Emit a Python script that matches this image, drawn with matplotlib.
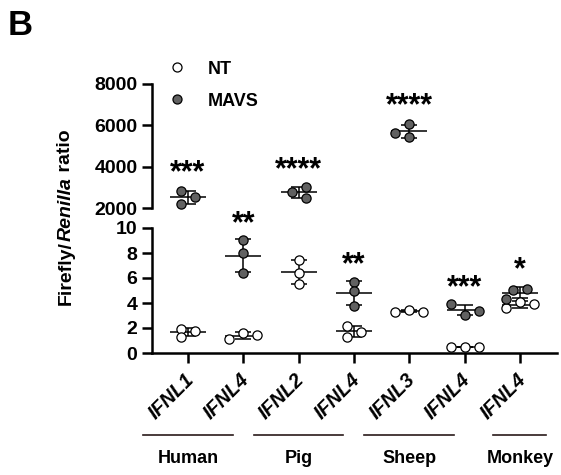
import matplotlib
matplotlib.use('Agg')
import matplotlib.pyplot as plt
import matplotlib.transforms as mtransforms
import numpy as np

plt.rcParams['font.family'] = ['Liberation Sans', 'DejaVu Sans']
plt.rcParams['font.weight'] = 'bold'

# ---------------- data ----------------
categories = ['IFNL1', 'IFNL4', 'IFNL2', 'IFNL4', 'IFNL3', 'IFNL4', 'IFNL4']
species = ['Human', 'Pig', 'Sheep', 'Monkey']
species_anchor = [0, 2, 4, 6]          # category index each species label sits under
species_line_halfwidth = [0.81, 0.81, 0.81, 0.48]

nt_values = [
    [1.92, 1.28, 1.76],
    [1.09, 1.63, 1.41],
    [7.44, 6.43, 5.52],
    [2.16, 1.31, 1.71],
    [3.28, 3.44, 3.28],
    [0.45, 0.45, 0.45],
    [3.57, 4.11, 3.95],
]
mavs_values = [
    [2822, 2194, 2547],
    [9.04, 7.97, 6.37],
    [2760, 3030, 2468],
    [5.70, 4.99, 3.76],
    [5643, 6064, 5421],
    [3.89, 3.04, 3.39],
    [5.04, 5.09, 4.32],
]
significance = ['***', '**', '****', '**', '****', '***', '*']
star_levels = [4130, 11.1, 4320, 7.76, 7370, 5.97, 7.36]

# swarm layout (in half-marker steps)
nt_jitter = [[-1, -1, 1], [-2, 0, 2], [0, 0, 0], [-1, -1, 1], [-2, 0, 2], [-2, 0, 2], [-2, 0, 2]]
mavs_jitter = [[-1, -1, 1], [0, 0, 0], [-1, 1, 1], [0, 0, 0], [-2, 0, 0], [-2, 0, 2], [-1, 1, -2]]

# ---------------- layout ----------------
W, H = 561, 475
fig = plt.figure(figsize=(W / 100, H / 100), dpi=100)


def fx(px):
    return px / W


def fy(py):
    return 1 - py / H


ax_top = fig.add_axes([fx(152), fy(208), fx(557) - fx(152), fy(84) - fy(208)])
ax_low = fig.add_axes([fx(152), fy(353), fx(557) - fx(152), fy(228) - fy(353)])

LW = 1.8
for ax in (ax_top, ax_low):
    ax.set_xlim(-0.65, 6.67)
    ax.spines['top'].set_visible(False)
    ax.spines['right'].set_visible(False)
    for s in ('left', 'bottom'):
        ax.spines[s].set_linewidth(LW)
    ax.tick_params(axis='y', length=7, width=LW, labelsize=14, pad=3.5)
    ax.patch.set_alpha(0)

ax_top.set_ylim(2000, 8000)
ax_top.set_yticks([2000, 4000, 6000, 8000])
ax_top.spines['bottom'].set_visible(False)
ax_top.set_xticks([])

ax_low.set_ylim(0, 10)
ax_low.set_yticks([0, 2, 4, 6, 8, 10])
ax_low.set_xticks(range(len(categories)))
ax_low.set_xticklabels(categories, rotation=45, ha='right', va='center',
                       rotation_mode='anchor', style='italic', fontsize=14.5,
                       fontweight='bold')
ax_low.tick_params(axis='x', length=7, width=LW, pad=10)
shift = mtransforms.ScaledTranslation(3 / 100, 0, fig.dpi_scale_trans)
for lab in ax_low.get_xticklabels():
    lab.set_transform(lab.get_transform() + shift)

step = 0.1265
mean_half = 0.325
cap_pt = 6.1
gray = '#616161'

for i in range(len(categories)):
    for vals, jit, fc in ((nt_values[i], nt_jitter[i], 'white'),
                          (mavs_values[i], mavs_jitter[i], gray)):
        v = np.array(vals, dtype=float)
        m = v.mean()
        sd = v.std(ddof=1)
        ax = ax_top if m > 10 else ax_low
        ax.errorbar([i], [m], yerr=[sd], fmt='none', ecolor='black',
                    elinewidth=1.1, capsize=cap_pt, capthick=1.1, zorder=2,
                    clip_on=False)
        ax.hlines(m, i - mean_half, i + mean_half, color='black', lw=1.1,
                  zorder=2, clip_on=False)
        ax.scatter(i + np.array(jit) * step, v, s=44, facecolor=fc,
                   edgecolor='black', linewidth=0.9, zorder=3, clip_on=False)

star_fs = 22
for i, (sig, lvl) in enumerate(zip(significance, star_levels)):
    ax = ax_top if lvl > 100 else ax_low
    ax.annotate(sig, xy=(i, lvl), xytext=(0, -0.58 * star_fs),
                textcoords='offset points', ha='center', va='baseline',
                fontsize=star_fs, fontweight='bold', annotation_clip=False)

# species underlines and labels
trans = mtransforms.blended_transform_factory(ax_low.transData, ax_low.transAxes)
line_y = -(435 - 353) / 125
label_y = -(463 - 353) / 125
for name, a, hw in zip(species, species_anchor, species_line_halfwidth):
    ax_low.plot([a - hw, a + hw], [line_y, line_y], color='#2a1a1a', lw=1.2,
                transform=trans, clip_on=False)
    ax_low.text(a, label_y, name, transform=trans, ha='center', va='baseline',
                fontsize=13, fontweight='bold')

# legend (drawn manually)
for py, fc, lab in ((67, 'white', 'NT'), (99, gray, 'MAVS')):
    fig.lines.append(plt.Line2D([fx(177)], [fy(py)], marker='o', markersize=6.5,
                                markerfacecolor=fc, markeredgecolor='black',
                                markeredgewidth=0.9, linestyle='none',
                                transform=fig.transFigure))
    fig.text(fx(208), fy(py + 6.5), lab, fontsize=13, fontweight='bold',
             ha='left', va='baseline')

# panel letter
fig.text(fx(8), fy(35), 'B', fontsize=25, fontweight='bold', ha='left', va='baseline')

# y label with italic part
renderer = fig.canvas.get_renderer()
pieces = [('Firefly/', 'normal'), ('Renilla', 'italic'), (' ratio', 'normal')]
cur = 305
for txt, st in pieces:
    t = fig.text(fx(66), fy(cur), txt, rotation=90, rotation_mode='anchor',
                 ha='left', va='center', fontsize=14, fontweight='bold', style=st)
    bb = t.get_window_extent(renderer)
    cur -= bb.height

fig.savefig('out.png', dpi=100)
